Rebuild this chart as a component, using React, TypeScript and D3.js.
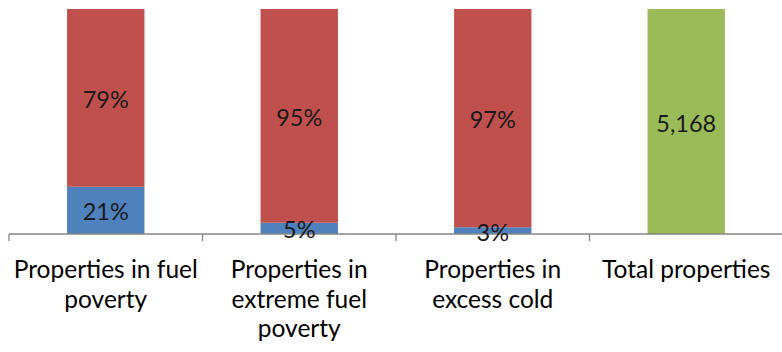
import * as d3 from "d3";
import { useEffect, useRef } from "react";

// ---- data ----
const categories = [
  "Properties in fuel\npoverty",
  "Properties in\nextreme fuel\npoverty",
  "Properties in\nexcess cold",
  "Total properties",
];
const affected = [21, 5, 3]; // % (blue)
const notAffected = [79, 95, 97]; // % (red)
const totalProperties = 5168; // green bar

export default function App() {
  const ref = useRef<SVGSVGElement | null>(null);

  useEffect(() => {
    const width = 782;
    const height = 352;
    const axisY = 234;
    const topY = 9;

    const svg = d3.select(ref.current).attr("viewBox", `0 0 ${width} ${height}`);
    svg.selectAll("*").remove();

    const x = d3
      .scaleBand<string>()
      .domain(categories)
      .range([9, 783])
      .paddingInner(0.6)
      .paddingOuter(0.3);

    const y = d3.scaleLinear().domain([0, 100]).range([axisY, topY]);

    const font = "Lato, 'Open Sans', sans-serif";

    // ---- stacked bars ----
    const stacked = categories.slice(0, 3).map((c, i) => ({
      cat: c,
      segs: [
        { y0: 0, y1: affected[i], color: "#4F81BD", v: affected[i] },
        { y0: affected[i], y1: affected[i] + notAffected[i], color: "#C0504D", v: notAffected[i] },
      ],
    }));

    const g = svg.append("g");
    stacked.forEach((d) => {
      d.segs.forEach((s) => {
        g.append("rect")
          .attr("x", x(d.cat)!)
          .attr("y", y(s.y1))
          .attr("width", x.bandwidth())
          .attr("height", y(s.y0) - y(s.y1))
          .attr("fill", s.color);
      });
    });

    // green total bar (full height)
    const totalScale = d3.scaleLinear().domain([0, totalProperties]).range([axisY, topY]);
    g.append("rect")
      .attr("x", x(categories[3])!)
      .attr("y", totalScale(totalProperties))
      .attr("width", x.bandwidth())
      .attr("height", axisY - totalScale(totalProperties))
      .attr("fill", "#9BBB59");

    // ---- axis ----
    const ax = svg.append("g").attr("stroke", "#868686").attr("stroke-width", 1.3);
    ax.append("line").attr("x1", 9).attr("x2", 782).attr("y1", axisY).attr("y2", axisY);
    const step = x.step();
    d3.range(categories.length + 1).forEach((i) => {
      const tx = 9 + i * step;
      ax.append("line").attr("x1", tx).attr("x2", tx).attr("y1", axisY).attr("y2", axisY + 7);
    });

    // ---- data labels ----
    const lbl = svg
      .append("g")
      .attr("font-family", font)
      .attr("font-size", 23.5)
      .attr("fill", "#1a1a1a")
      .attr("text-anchor", "middle")
      .attr("dominant-baseline", "central");
    stacked.forEach((d) => {
      d.segs.forEach((s) => {
        lbl
          .append("text")
          .attr("x", x(d.cat)! + x.bandwidth() / 2)
          .attr("y", (y(s.y0) + y(s.y1)) / 2 + 1)
          .text(`${s.v}%`);
      });
    });
    lbl
      .append("text")
      .attr("x", x(categories[3])! + x.bandwidth() / 2)
      .attr("y", (axisY + totalScale(totalProperties)) / 2 + 1)
      .text(d3.format(",")(totalProperties));

    // ---- category labels ----
    const cl = svg
      .append("g")
      .attr("font-family", font)
      .attr("font-size", 24.5)
      .attr("fill", "#000")
      .attr("text-anchor", "middle");
    categories.forEach((c) => {
      const t = cl.append("text").attr("x", x(c)! + x.bandwidth() / 2).attr("y", 278);
      c.split("\n").forEach((line, j) => {
        t.append("tspan")
          .attr("x", x(c)! + x.bandwidth() / 2)
          .attr("dy", j === 0 ? 0 : 29.5)
          .text(line);
      });
    });
  }, []);

  return (
    <svg
      ref={ref}
      width={782}
      height={352}
      style={{ position: "absolute", left: 0, top: 0, background: "#fff" }}
    />
  );
}
